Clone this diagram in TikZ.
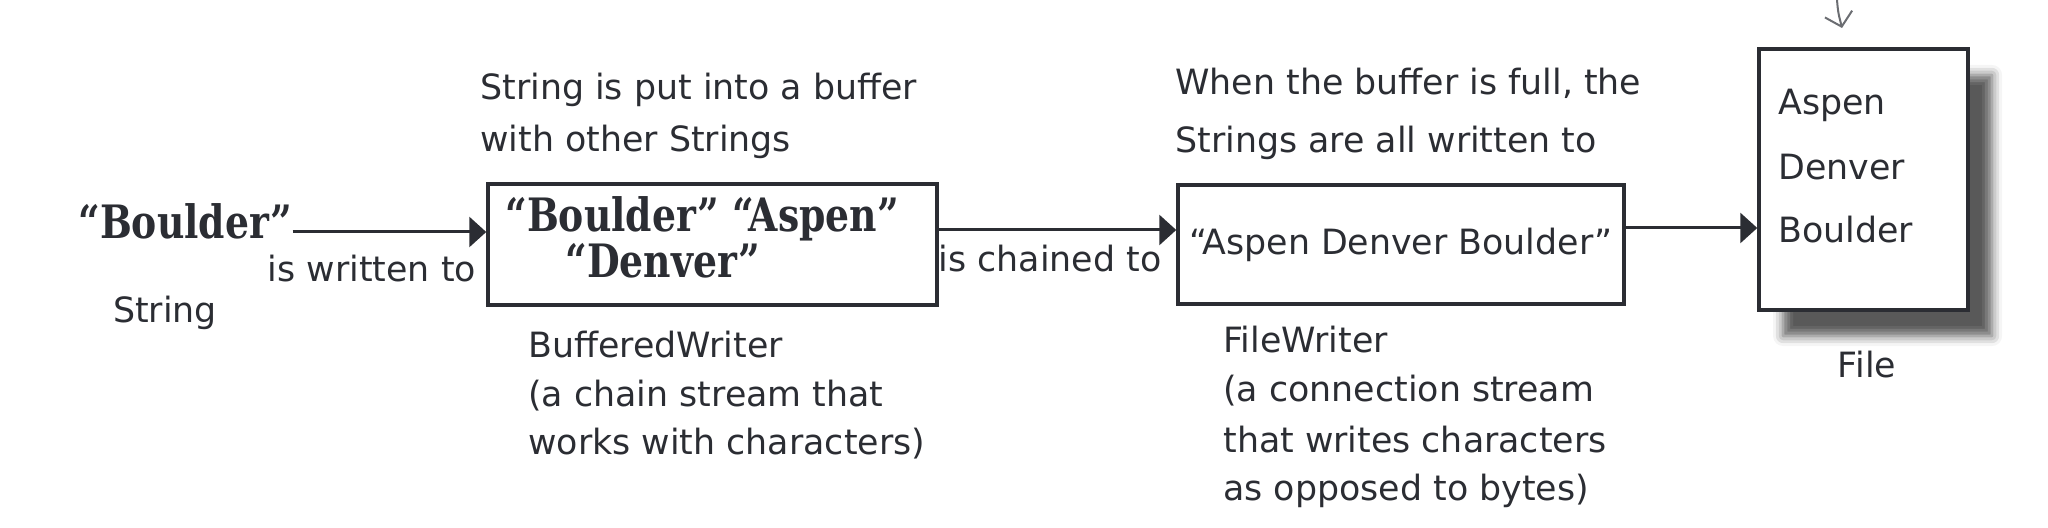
\documentclass[tikz,border=0pt]{standalone}
\usepackage{fontspec}
\setmainfont{DejaVu Sans}
\newfontfamily\slabfont{DejaVu Serif}[FakeStretch=0.82]
\usetikzlibrary{arrows.meta,shadows.blur}
\definecolor{ink}{HTML}{2B2D33}
\definecolor{pencil}{HTML}{6B6D72}
\begin{document}
\begin{tikzpicture}[x=0.5pt,y=-0.5pt,
  txt/.style={font=\fontsize{17.4}{24.25}\selectfont, text=ink, inner sep=0pt},
  line/.style={txt, anchor=base west},
  bold/.style={font=\slabfont\bfseries\fontsize{23}{23}\selectfont, text=ink, inner sep=0pt},
  boxed/.style={draw=ink, line width=1.75pt, fill=white, inner sep=0pt},
  arr/.style={draw=ink, line width=1.5pt, -{Triangle[length=8.5pt,width=15pt]}},
  pencilarrow/.style={draw=pencil, line width=1pt, line cap=round, -{Straight Barb[length=6.5pt,width=14pt,line width=1pt]}}]
\useasboundingbox (0,0) rectangle (2048,528);

% boxes
\node[boxed, minimum width=224.5pt, minimum height=60.5pt] (buf) at (712.5,244.5) {};
\node[boxed, minimum width=223pt, minimum height=59.5pt, txt] (fw) at (1401,244.5) {“Aspen Denver Boulder”};
\node[boxed, minimum width=104.5pt, minimum height=130.5pt,
  blur shadow={shadow xshift=12pt, shadow yshift=-13pt, shadow blur radius=5pt, shadow opacity=65}] (file) at (1863.5,179.5) {};

% bold strings
\node[bold, anchor=base west] (boulder) at (78,239) {“Boulder”};
\node[bold, anchor=base west] (bufA) at (505,232) {“Boulder” “Aspen”};
\node[bold, anchor=base west] (bufB) at (565,278) {“Denver”};

% file contents
\node[line] (fa) at (1778,115) {Aspen};
\node[line] (fd) at (1778,180) {Denver};
\node[line] (fb) at (1778,243) {Boulder};

% labels
\node[txt, anchor=base] (string) at (165,323) {String};
\node[txt, anchor=base] (written) at (372,282) {is written to};
\node[txt, anchor=base] (chained) at (1050,272) {is chained to};
\node[txt, anchor=base] (filelbl) at (1867,378) {File};

\node[line] (n1a) at (480,100) {String is put into a buffer};
\node[line] (n1b) at (480,152) {with other Strings};
\node[line] (n2a) at (1175,95) {When the buffer is full, the};
\node[line] (n2b) at (1175,153) {Strings are all written to};

\node[line] (bw1) at (528,358) {BufferedWriter};
\node[line] (bw2) at (528,407) {(a chain stream that};
\node[line] (bw3) at (528,455) {works with characters)};

\node[line] (fw1) at (1223,353) {FileWriter};
\node[line] (fw2) at (1223,402) {(a connection stream};
\node[line] (fw3) at (1223,452) {that writes characters};
\node[line] (fw4) at (1223,500) {as opposed to bytes)};

% connectors
\coordinate (a1) at ([yshift=3.5pt]boulder.base east);
\draw[arr] (a1) -- (a1 -| buf.west);
\coordinate (a2) at ([yshift=7.25pt]buf.east);
\draw[arr] (a2) -- (a2 -| fw.west);
\coordinate (a3) at ([yshift=8.25pt]fw.east);
\draw[arr] (a3) -- (a3 -| file.west);

% pencil arrow from above
\coordinate (p0) at (1837,0);
\coordinate (p1) at (1842,28);
\draw[pencilarrow] (p0) .. controls (1838,12) .. (p1);
\end{tikzpicture}
\end{document}
